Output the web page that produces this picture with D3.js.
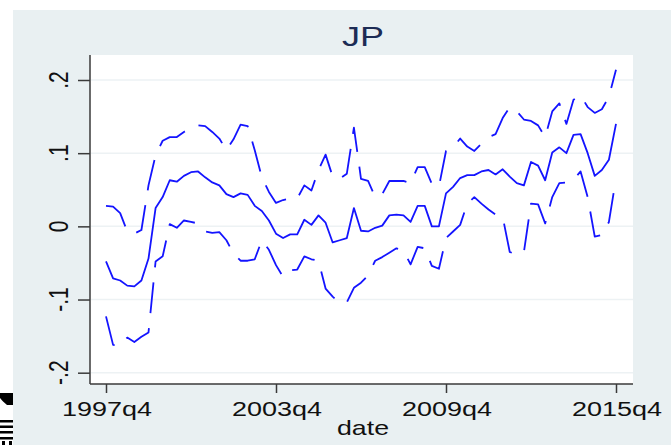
<!DOCTYPE html>
<html lang="en">
<head>
    <meta charset="UTF-8">
    <title>JP</title>
    <script src="https://d3js.org/d3.v7.min.js"></script>
    <style>
        body { margin: 0; background: #ffffff; }
        svg { display: block; font-family: "Liberation Sans", Arial, sans-serif; }
        .grid line { stroke: #edf2f4; stroke-width: 1.5px; }
        .axis path, .axis line { stroke: #3a3a3a; stroke-width: 1.5px; }
        .series { fill: none; stroke: #1414ff; stroke-width: 1.8px; stroke-linejoin: round; }
        .dashed { stroke-dasharray: 31, 15; }
    </style>
</head>
<body>
    <div class="Fig"></div>
    <script>
        // quarters counted from 1997q4 (index 0) to 2015q4 (index 72)
        const tickQuarters = [0, 24, 48, 72];
        const tickLabels = ["1997q4", "2003q4", "2009q4", "2015q4"];
        const yTicks = [-0.2, -0.1, 0, 0.1, 0.2];
        const yTickLabels = ["-.2", "-.1", "0", ".1", ".2"];

        const middle = [
            -0.048, -0.071, -0.074, -0.081, -0.082, -0.074, -0.044, 0.025, 0.040, 0.063, 0.061, 0.069,
            0.074, 0.075, 0.067, 0.060, 0.056, 0.044, 0.040, 0.045, 0.043, 0.028, 0.021, 0.008,
            -0.010, -0.016, -0.011, -0.011, 0.009, 0.002, 0.015, 0.005, -0.022, -0.019, -0.016, 0.025,
            -0.006, -0.007, -0.002, 0.001, 0.015, 0.016, 0.015, 0.006, 0.028, 0.028, 0.000, 0.000,
            0.045, 0.054, 0.066, 0.070, 0.070, 0.075, 0.077, 0.071, 0.078, 0.068, 0.059, 0.056,
            0.088, 0.083, 0.063, 0.101, 0.108, 0.100, 0.125, 0.126, 0.100, 0.069, 0.077, 0.091, 0.140
        ];
        const upper = [
            0.028, 0.027, 0.018, -0.007, -0.010, -0.005, 0.056, 0.097, 0.117, 0.122, 0.122, 0.129,
            0.135, 0.138, 0.137, 0.129, 0.120, 0.104, 0.119, 0.139, 0.137, 0.104, 0.067, 0.047,
            0.032, 0.036, 0.038, 0.038, 0.056, 0.049, 0.077, 0.098, 0.068, 0.065, 0.072, 0.135,
            0.065, 0.062, 0.040, 0.044, 0.062, 0.062, 0.062, 0.059, 0.081, 0.081, 0.058, 0.054,
            0.103, 0.108, 0.120, 0.109, 0.103, 0.113, 0.122, 0.126, 0.148, 0.163, 0.157, 0.146,
            0.144, 0.138, 0.122, 0.157, 0.168, 0.140, 0.173, 0.179, 0.163, 0.155, 0.160, 0.177, 0.214
        ];
        const lower = [
            -0.123, -0.162, -0.163, -0.152, -0.158, -0.151, -0.145, -0.048, -0.041, 0.003, -0.002, 0.008,
            0.006, 0.004, -0.007, -0.009, -0.008, -0.019, -0.037, -0.047, -0.047, -0.045, -0.019, -0.032,
            -0.053, -0.069, -0.060, -0.059, -0.041, -0.045, -0.047, -0.085, -0.096, -0.105, -0.104, -0.084,
            -0.077, -0.067, -0.047, -0.042, -0.036, -0.030, -0.033, -0.052, -0.028, -0.030, -0.054, -0.058,
            -0.016, -0.007, 0.002, 0.031, 0.040, 0.031, 0.023, 0.016, 0.013, -0.035, -0.039, -0.035,
            0.031, 0.030, 0.004, 0.040, 0.059, 0.060, 0.064, 0.075, 0.040, -0.014, -0.012, 0.006, 0.066
        ];

        const width = 671, height = 445;
        const plot = { left: 90, right: 633, top: 55, bottom: 384 };

        const svg = d3.select(".Fig").append("svg")
            .attr("width", width)
            .attr("height", height);

        // graph region
        svg.append("rect")
            .attr("x", 13).attr("y", 10)
            .attr("width", width - 13).attr("height", height - 10)
            .attr("fill", "#e9f0f2");

        // plot region
        svg.append("rect")
            .attr("x", plot.left).attr("y", plot.top)
            .attr("width", plot.right - plot.left).attr("height", plot.bottom - plot.top)
            .attr("fill", "#ffffff");

        const x = d3.scaleLinear().domain([0, 72]).range([106, 616]);
        const y = d3.scaleLinear().domain([-0.2, 0.2]).range([372.7, 80]);

        // gridlines
        svg.append("g").attr("class", "grid")
            .selectAll("line")
            .data(yTicks)
            .enter().append("line")
            .attr("x1", plot.left + 1).attr("x2", plot.right)
            .attr("y1", d => y(d)).attr("y2", d => y(d));

        // y axis
        const yAxis = svg.append("g")
            .attr("class", "axis")
            .attr("transform", "translate(" + plot.left + ",0)")
            .call(d3.axisLeft(y).tickValues(yTicks).tickSize(12).tickFormat(""));
        yAxis.select(".domain").attr("d", "M0," + plot.top + "V" + plot.bottom);

        // x axis
        const xAxis = svg.append("g")
            .attr("class", "axis")
            .attr("transform", "translate(0," + plot.bottom + ")")
            .call(d3.axisBottom(x).tickValues(tickQuarters).tickSize(9).tickFormat(""));
        xAxis.select(".domain").attr("d", "M" + plot.left + ",0H" + plot.right);

        // y tick labels, rotated
        svg.append("g")
            .selectAll("text")
            .data(yTicks)
            .enter().append("text")
            .attr("transform", d => "translate(68," + y(d) + ") scale(1.3,1) rotate(-90)")
            .attr("text-anchor", "middle")
            .attr("font-size", 21)
            .attr("fill", "#111")
            .text((d, i) => yTickLabels[i]);

        // x tick labels
        svg.append("g")
            .selectAll("text")
            .data(tickQuarters)
            .enter().append("text")
            .attr("x", d => x(d) + 1)
            .attr("y", 416)
            .attr("text-anchor", "middle")
            .attr("font-size", 20)
            .attr("textLength", 90)
            .attr("lengthAdjust", "spacingAndGlyphs")
            .attr("fill", "#111")
            .text((d, i) => tickLabels[i]);

        svg.append("text")
            .attr("x", 363).attr("y", 435)
            .attr("text-anchor", "middle")
            .attr("font-size", 21)
            .attr("textLength", 52)
            .attr("lengthAdjust", "spacingAndGlyphs")
            .attr("fill", "#111")
            .text("date");

        svg.append("text")
            .attr("x", 363).attr("y", 46)
            .attr("text-anchor", "middle")
            .attr("font-size", 27)
            .attr("textLength", 42)
            .attr("lengthAdjust", "spacingAndGlyphs")
            .attr("fill", "#1c2c55")
            .text("JP");

        // series
        const line = d3.line()
            .x((d, i) => x(i))
            .y(d => y(d));

        svg.append("path").datum(upper).attr("class", "series dashed").attr("d", line);
        svg.append("path").datum(lower).attr("class", "series dashed").attr("d", line);
        svg.append("path").datum(middle).attr("class", "series").attr("d", line);

        // cropped dark fragment at the lower left edge
        const frag = svg.append("g").attr("fill", "#000");
        frag.append("path").attr("d", "M0,393H13V405H7Q2,401 0,398Z");
        [420, 425.5, 431, 437].forEach(v => {
            frag.append("rect").attr("x", 0).attr("y", v).attr("width", 13).attr("height", 2.5);
        });
        frag.append("rect").attr("x", 2).attr("y", 441).attr("width", 3).attr("height", 4);
        frag.append("rect").attr("x", 9).attr("y", 441).attr("width", 3).attr("height", 4);
    </script>
</body>
</html>
